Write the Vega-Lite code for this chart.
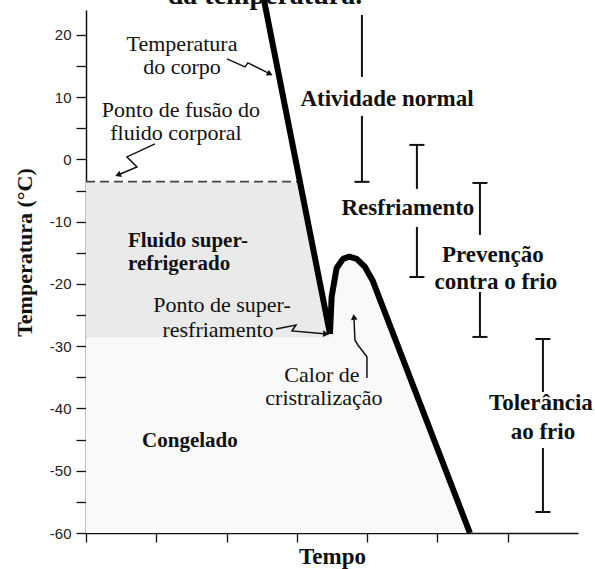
{
  "$schema": "https://vega.github.io/schema/vega-lite/v6.json",
  "width": 492,
  "height": 523,
  "autosize": {"type": "none"},
  "padding": {"left": 86, "top": 10, "right": 17, "bottom": 36},
  "background": "white",
  "config": {"view": {"stroke": null}, "font": "Liberation Serif"},
  "datasets": {
    "body": [
      {"i": 1, "x": 2.532, "y": 25.62},
      {"i": 2, "x": 3.471, "y": -28.0},
      {"i": 3, "x": 3.495, "y": -22.04},
      {"i": 4, "x": 3.566, "y": -17.43},
      {"i": 5, "x": 3.656, "y": -15.98},
      {"i": 6, "x": 3.745, "y": -15.61},
      {"i": 7, "x": 3.851, "y": -15.98},
      {"i": 8, "x": 3.969, "y": -17.27},
      {"i": 9, "x": 4.08, "y": -19.5},
      {"i": 10, "x": 5.462, "y": -60}
    ],
    "gray": [
      {"x": 0, "y": -3.57},
      {"x": 3.04, "y": -3.57},
      {"x": 3.471, "y": -28.6}
    ],
    "frozen": [
      {"x": 0, "y": -28.6},
      {"x": 3.471, "y": -28.6},
      {"x": 3.495, "y": -22.04},
      {"x": 3.566, "y": -17.43},
      {"x": 3.656, "y": -15.98},
      {"x": 3.745, "y": -15.61},
      {"x": 3.851, "y": -15.98},
      {"x": 3.969, "y": -17.27},
      {"x": 4.08, "y": -19.5},
      {"x": 5.462, "y": -60}
    ],
    "melt": [
      {"x": 0, "y": -3.57},
      {"x": 3.04, "y": -3.57}
    ],
    "arrows": [
      {"id": "a", "i": 1, "x": 2.006, "y": 16.14},
      {"id": "a", "i": 2, "x": 2.262, "y": 14.86},
      {"id": "a", "i": 3, "x": 2.304, "y": 15.5},
      {"id": "a", "i": 4, "x": 2.59, "y": 13.9},
      {"id": "b", "i": 1, "x": 0.981, "y": 2.49},
      {"id": "b", "i": 2, "x": 0.583, "y": 0.4},
      {"id": "b", "i": 3, "x": 0.725, "y": -1.2},
      {"id": "b", "i": 4, "x": 0.48, "y": -2.38},
      {"id": "c", "i": 1, "x": 2.703, "y": -27.23},
      {"id": "c", "i": 2, "x": 2.987, "y": -26.59},
      {"id": "c", "i": 3, "x": 2.93, "y": -27.55},
      {"id": "c", "i": 4, "x": 3.39, "y": -28.0},
      {"id": "d", "i": 1, "x": 3.997, "y": -35.1},
      {"id": "d", "i": 2, "x": 3.997, "y": -31.7},
      {"id": "d", "i": 3, "x": 3.868, "y": -29.8},
      {"id": "d", "i": 4, "x": 3.826, "y": -29.0},
      {"id": "d", "i": 5, "x": 3.814, "y": -25.8}
    ],
    "bars": [
      {"x": 3.926, "y": 23.2, "y2": 13.25},
      {"x": 3.926, "y": 7.0, "y2": -3.6},
      {"x": 4.708, "y": 2.33, "y2": -4.74},
      {"x": 4.708, "y": -10.84, "y2": -18.88},
      {"x": 5.605, "y": -3.78, "y2": -12.13},
      {"x": 5.605, "y": -21.29, "y2": -28.51},
      {"x": 6.501, "y": -28.84, "y2": -37.35},
      {"x": 6.501, "y": -46.35, "y2": -56.63}
    ],
    "caps": [
      {"x": 3.926, "y": -3.6},
      {"x": 4.708, "y": 2.33},
      {"x": 4.708, "y": -18.88},
      {"x": 5.605, "y": -3.78},
      {"x": 5.605, "y": -28.51},
      {"x": 6.501, "y": -28.84},
      {"x": 6.501, "y": -56.63}
    ],
    "normalText": [
      {"x": 1.366, "y": 18.55, "t": "Temperatura"},
      {"x": 1.366, "y": 14.86, "t": "do corpo"},
      {"x": 1.351, "y": 7.95, "t": "Ponto de fusão do"},
      {"x": 1.28, "y": 4.26, "t": "fluido corporal"},
      {"x": 1.935, "y": -23.37, "t": "Ponto de super-"},
      {"x": 1.878, "y": -27.39, "t": "resfriamento"},
      {"x": 3.357, "y": -34.62, "t": "Calor de"},
      {"x": 3.385, "y": -38.31, "t": "cristralização"}
    ],
    "boldRight": [
      {"x": 4.282, "y": 9.72, "t": "Atividade normal"},
      {"x": 4.58, "y": -7.79, "t": "Resfriamento"},
      {"x": 5.789, "y": -15.34, "t": "Prevenção"},
      {"x": 5.832, "y": -19.68, "t": "contra o frio"},
      {"x": 6.472, "y": -39.12, "t": "Tolerância"},
      {"x": 6.501, "y": -43.78, "t": "ao frio"}
    ],
    "boldLeft": [
      {"x": 0.597, "y": -13.1, "t": "Fluido super-"},
      {"x": 0.597, "y": -16.8, "t": "refrigerado"}
    ],
    "boldCenter": [
      {"x": 1.479, "y": -45.22, "t": "Congelado"}
    ],
    "topText": [
      {"x": 2.546, "y": 25.0, "t": "da temperatura."}
    ],
    "headA": [{"x": 2.617, "y": 13.73}],
    "headB": [{"x": 0.455, "y": -2.49}],
    "headC": [{"x": 3.414, "y": -28.03}],
    "headD": [{"x": 3.812, "y": -25.3}]
  },
  "encoding": {
    "x": {
      "field": "x",
      "type": "quantitative",
      "scale": {"domain": [0, 7], "nice": false, "zero": false},
      "axis": {
        "values": [0, 1, 2, 3, 4, 5, 6],
        "labels": false,
        "grid": false,
        "tickSize": 9,
        "tickColor": "#111",
        "tickWidth": 1.3,
        "domainColor": "#111",
        "domainWidth": 1.5,
        "title": "Tempo",
        "titleFont": "Liberation Serif",
        "titleFontSize": 23,
        "titleFontWeight": "bold",
        "titleColor": "#111",
        "titleBaseline": "alphabetic",
        "titleY": 30
      }
    },
    "y": {
      "field": "y",
      "type": "quantitative",
      "scale": {"domain": [-60, 24], "nice": false, "zero": false},
      "axis": {
        "values": [-60, -55, -50, -45, -40, -35, -30, -25, -20, -15, -10, -5, 0, 5, 10, 15, 20],
        "labelExpr": "datum.value % 10 == 0 ? '' + datum.value : ''",
        "labelFont": "Liberation Sans",
        "labelFontSize": 15,
        "labelColor": "#222",
        "labelPadding": 5,
        "grid": false,
        "tickSize": 10,
        "tickColor": "#111",
        "tickWidth": 1.3,
        "domainColor": "#111",
        "domainWidth": 1.5,
        "title": "Temperatura (°C)",
        "titleFont": "Liberation Serif",
        "titleFontSize": 22,
        "titleFontWeight": "bold",
        "titleColor": "#111",
        "titleBaseline": "alphabetic",
        "titleX": -55,
        "titleY": 242
      }
    }
  },
  "layer": [
    {
      "data": {"name": "frozen"},
      "mark": {"type": "area", "color": "#f9f9f9"},
      "encoding": {"y2": {"datum": -60}}
    },
    {
      "data": {"name": "gray"},
      "mark": {"type": "area", "color": "#eaeaea"},
      "encoding": {"y2": {"datum": -28.6}}
    },
    {
      "data": {"name": "melt"},
      "mark": {"type": "line", "color": "#444", "strokeWidth": 1.6, "strokeDash": [9, 5]},
      "encoding": {}
    },
    {
      "data": {"name": "body"},
      "mark": {"type": "line", "color": "#000", "strokeWidth": 6, "strokeJoin": "bevel", "clip": false},
      "encoding": {"order": {"field": "i", "type": "quantitative"}}
    },
    {
      "data": {"name": "arrows"},
      "mark": {"type": "line", "color": "#111", "strokeWidth": 1.5, "interpolate": "linear"},
      "encoding": {
        "detail": {"field": "id"},
        "order": {"field": "i", "type": "quantitative"}
      }
    },
    {
      "data": {"name": "headA"},
      "mark": {"type": "point", "shape": "triangle-right", "angle": 27, "filled": true, "size": 45, "color": "#111", "opacity": 1}
    },
    {
      "data": {"name": "headB"},
      "mark": {"type": "point", "shape": "triangle-left", "angle": 337, "filled": true, "size": 45, "color": "#111", "opacity": 1}
    },
    {
      "data": {"name": "headC"},
      "mark": {"type": "point", "shape": "triangle-right", "angle": 5, "filled": true, "size": 45, "color": "#111", "opacity": 1}
    },
    {
      "data": {"name": "headD"},
      "mark": {"type": "point", "shape": "triangle-up", "angle": 354, "filled": true, "size": 45, "color": "#111", "opacity": 1}
    },
    {
      "data": {"name": "bars"},
      "mark": {"type": "rule", "color": "#111", "strokeWidth": 2},
      "encoding": {"y2": {"field": "y2"}}
    },
    {
      "data": {"name": "caps"},
      "mark": {"type": "tick", "orient": "horizontal", "size": 15, "thickness": 2, "color": "#111", "opacity": 1}
    },
    {
      "data": {"name": "normalText"},
      "mark": {"type": "text", "font": "Liberation Serif", "fontSize": 22, "color": "#111", "align": "center", "baseline": "middle"},
      "encoding": {"text": {"field": "t"}}
    },
    {
      "data": {"name": "boldRight"},
      "mark": {"type": "text", "font": "Liberation Serif", "fontSize": 23, "fontWeight": "bold", "color": "#111", "align": "center", "baseline": "middle"},
      "encoding": {"text": {"field": "t"}}
    },
    {
      "data": {"name": "boldLeft"},
      "mark": {"type": "text", "font": "Liberation Serif", "fontSize": 21, "fontWeight": "bold", "color": "#111", "align": "left", "baseline": "middle"},
      "encoding": {"text": {"field": "t"}}
    },
    {
      "data": {"name": "boldCenter"},
      "mark": {"type": "text", "font": "Liberation Serif", "fontSize": 21, "fontWeight": "bold", "color": "#111", "align": "center", "baseline": "middle"},
      "encoding": {"text": {"field": "t"}}
    },
    {
      "data": {"name": "topText"},
      "mark": {"type": "text", "font": "Liberation Serif", "fontSize": 28, "fontWeight": "bold", "color": "#111", "align": "center", "baseline": "alphabetic"},
      "encoding": {"text": {"field": "t"}}
    }
  ]
}
